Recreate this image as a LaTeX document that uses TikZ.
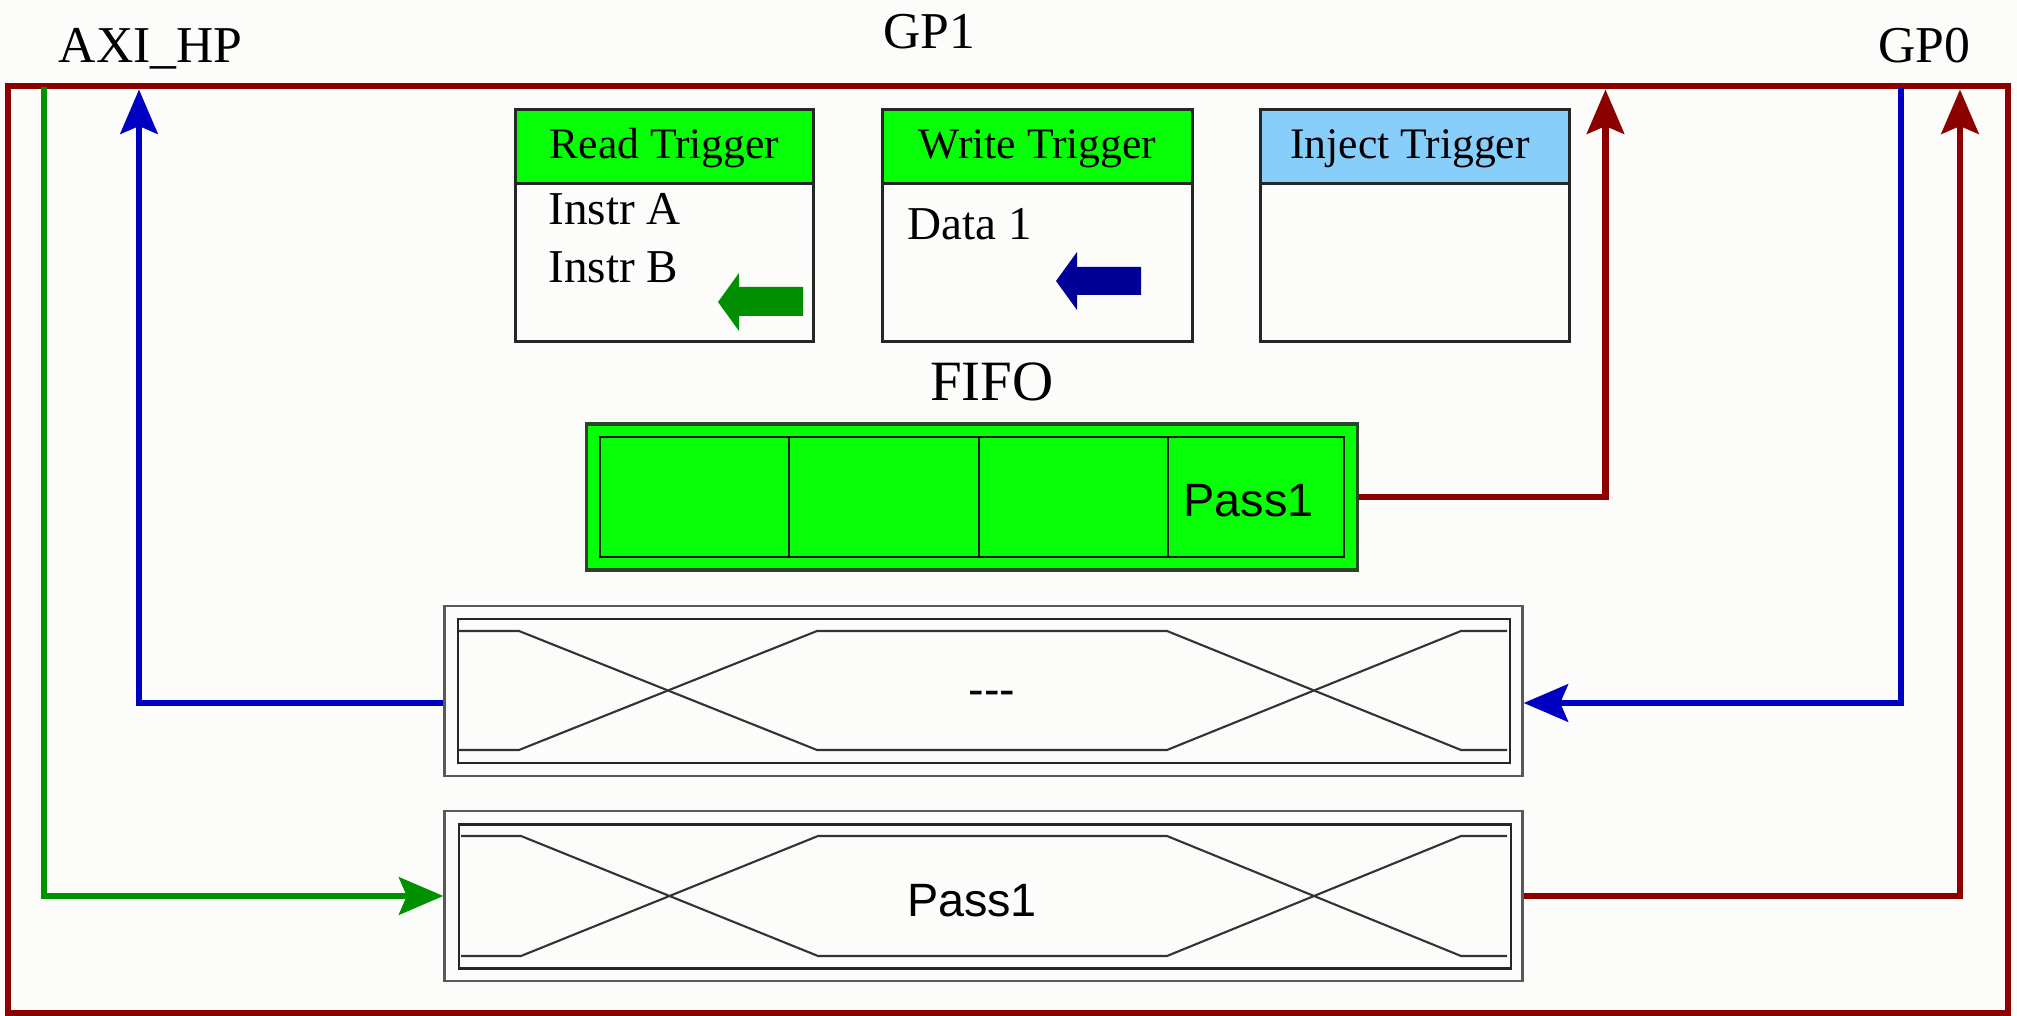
\documentclass[tikz,border=0pt]{standalone}
\usepackage{fontspec}
\setmainfont{Liberation Serif}
\newfontfamily\sansf{Liberation Sans}
\usetikzlibrary{arrows.meta}
\definecolor{framered}{RGB}{140,0,0}
\definecolor{busblue}{RGB}{0,0,195}
\definecolor{busgreen}{RGB}{0,145,0}
\definecolor{fifogreen}{RGB}{6,255,6}
\definecolor{skyhdr}{RGB}{135,206,250}
\definecolor{bgc}{RGB}{252,252,250}
\definecolor{blockgreen}{RGB}{0,143,0}
\definecolor{blockblue}{RGB}{0,0,150}
\definecolor{fifoedge}{RGB}{40,70,40}
\tikzset{
  wire/.style={line width=1.8pt},
  arrowtip/.style={-{Stealth[length=12.6pt,width=10.6pt,inset=2.2pt]}},
  lbl/.style={inner sep=0pt, font=\fontsize{14.7pt}{17pt}\selectfont},
  hdrtxt/.style={inner sep=0pt, anchor=base, font=\fontsize{12.4pt}{15pt}\selectfont},
  bodytxt/.style={inner sep=0pt, anchor=base west, font=\fontsize{13.4pt}{16pt}\selectfont},
  sanstxt/.style={inner sep=0pt, font=\sansf\fontsize{13.3pt}{16pt}\selectfont},
  tbox/.style={draw=black!85, line width=0.85pt, rectangle, inner sep=0pt, fill=bgc},
  cell/.style={draw=black!90, line width=0.6pt, rectangle, inner sep=0pt, minimum height=1.20cm},
  busouter/.style={draw=black!65, line width=0.75pt, rectangle, inner sep=0pt, fill=bgc, minimum width=10.77cm, minimum height=1.70cm},
  businner/.style={draw=black!85, line width=0.6pt, rectangle, inner sep=0pt, minimum width=10.52cm, minimum height=1.44cm},
  sig/.style={draw=black!80, line width=0.6pt}
}
\begin{document}
\begin{tikzpicture}[x=0.01cm, y=-0.01cm]
\fill[bgc] (0,0) rectangle (2017,1016);
\useasboundingbox (0,0) rectangle (2017,1016);

% outer frame
\node[draw=framered, line width=1.75pt, rectangle, inner sep=0pt,
      minimum width=19.985cm, minimum height=9.265cm] (frame) at (1007.75,549.75) {};

% top labels
\node[lbl, anchor=base west] (axi) at (58,63) {AXI\_HP};
\node[lbl, anchor=base] (gp1) at (929,49) {GP1};
\node[lbl, anchor=base] (gp0) at (1924,63) {GP0};

% trigger boxes
\node[tbox, minimum width=2.97cm, minimum height=2.31cm] (rbox) at (664.5,225.5) {};
\node[tbox, fill=fifogreen, minimum width=2.97cm, minimum height=0.73cm] (rhdr) at (664.5,146.5) {};
\node[hdrtxt] (rtxt) at (664.5,159) {Read Trigger};
\node[bodytxt] (ia) at (548,225) {Instr A};
\node[bodytxt] (ib) at (548,283) {Instr B};
\fill[blockgreen] (718,302) -- (739,273) -- (739,287) -- (803,287) -- (803,316) -- (739,316) -- (739,331) -- cycle;

\node[tbox, minimum width=3.09cm, minimum height=2.31cm] (wbox) at (1037.5,225.5) {};
\node[tbox, fill=fifogreen, minimum width=3.09cm, minimum height=0.73cm] (whdr) at (1037.5,146.5) {};
\node[hdrtxt] (wtxt) at (1037.5,159) {Write Trigger};
\node[bodytxt] (d1) at (907,240) {Data 1};
\fill[blockblue] (1056,281) -- (1077,252) -- (1077,267) -- (1141,267) -- (1141,295) -- (1077,295) -- (1077,310) -- cycle;

\node[tbox, minimum width=3.08cm, minimum height=2.31cm] (ibox) at (1415,225.5) {};
\node[tbox, fill=skyhdr, minimum width=3.08cm, minimum height=0.73cm] (ihdr) at (1415,146.5) {};
\node[hdrtxt] (itxt) at (1410,159) {Inject Trigger};

% FIFO
\node[lbl, anchor=base, font=\fontsize{16.2pt}{19pt}\selectfont] (fifolbl) at (992,401) {FIFO};
\node[draw=fifoedge, line width=0.9pt, fill=fifogreen, rectangle, inner sep=0pt,
      minimum width=7.70cm, minimum height=1.46cm] (fifo) at (972,497) {};
\node[cell, minimum width=1.89cm] (c1) at (694.5,497) {};
\node[cell, minimum width=1.90cm] (c2) at (884,497) {};
\node[cell, minimum width=1.89cm] (c3) at (1073.5,497) {};
\node[cell, minimum width=1.76cm] (c4) at (1256,497) {};
\node[sanstxt, anchor=base west] (p1) at (1183,517) {Pass1};

% bus boxes
\node[busouter] (bus1) at (983.5,691) {};
\node[businner] (bus1i) at (984,691) {};
\draw[sig] (459,631) -- (519,631) -- (817,750) -- (1167,750) -- (1461,631) -- (1507,631);
\draw[sig] (459,750) -- (519,750) -- (817,631) -- (1167,631) -- (1461,750) -- (1507,750);
\node[sanstxt, anchor=base] (dots) at (992,706) {---};

\node[busouter] (bus2) at (983.5,896) {};
\node[businner] (bus2i) at (985,896.5) {};
\draw[sig] (461,836) -- (521,836) -- (818,956) -- (1167,956) -- (1461,836) -- (1507,836);
\draw[sig] (461,956) -- (521,956) -- (818,836) -- (1167,836) -- (1461,956) -- (1507,956);
\node[sanstxt, anchor=base] (p2) at (972,917) {Pass1};

% connector end points on the frame
\coordinate (axiG) at (44,87);
\coordinate (axiB) at (139,89.5);
\coordinate (gp1R) at (1605.5,89.5);
\coordinate (gp0B) at (1901,87);
\coordinate (gp0R) at (1960,89.5);

% connectors
\draw[wire, busgreen, arrowtip] (axiG) |- (bus2.west);
\draw[wire, busblue, arrowtip] ([yshift=-0.12cm]bus1.west) -| (axiB);
\draw[wire, busblue, arrowtip] (gp0B) |- ([yshift=-0.12cm]bus1.east);
\draw[wire, framered, arrowtip] (fifo.east) -| (gp1R);
\draw[wire, framered, arrowtip] (bus2.east) -| (gp0R);
\end{tikzpicture}
\end{document}
